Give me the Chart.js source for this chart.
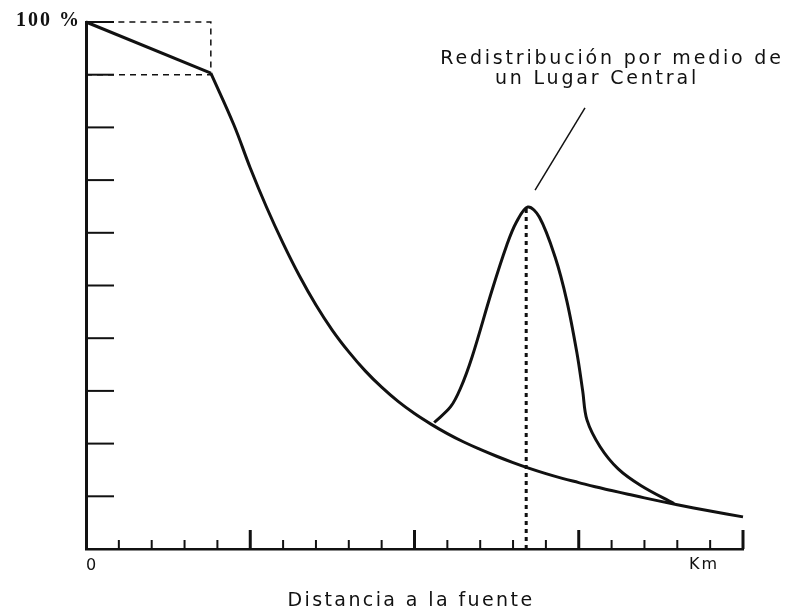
<!DOCTYPE html>
<html>
<head>
<meta charset="utf-8">
<script src="https://cdn.jsdelivr.net/npm/chart.js@4"></script>
<style>
  body { margin: 0; background: #fff; }
  #wrap { width: 794px; height: 611px; }
</style>
</head>
<body>
<div id="wrap"><canvas id="chart"></canvas></div>
<script>
// straight first stretch, then the distance-decay curve
const slopeX = [0, 3.8];
const slopeY = [100, 90.3];
const decayX = [3.8, 4.5, 5, 5.5, 6, 6.5, 7, 7.5, 8, 8.5, 9, 9.5, 10, 10.5, 11, 11.5, 12, 12.5, 13, 13.5, 14, 14.5, 15, 15.5, 16, 16.5, 17, 18, 19, 20];
const decayY = [90.3, 80.5, 72.3, 64.8, 58.0, 51.8, 46.3, 41.5, 37.4, 33.8, 30.7, 28.0, 25.7, 23.7, 21.9, 20.3, 18.9, 17.6, 16.4, 15.3, 14.3, 13.4, 12.6, 11.8, 11.1, 10.4, 9.7, 8.4, 7.2, 6.1];

// bump from the central place
const peakX = [10.6, 11.1, 11.4, 11.75, 12.36, 12.8, 13.1, 13.45, 13.8, 14.28, 14.64, 14.95, 15.12, 15.25, 15.65, 16.2, 16.9, 17.9];
const peakY = [24, 27, 30.5, 36.4, 49.1, 57.5, 62, 64.9, 63, 55.4, 47, 37, 30, 24.5, 19.4, 15.2, 12, 8.6];

const centerX = [13.4, 13.4];
const centerY = [0, 65];
const boxX = [0, 3.8, 3.8, 0];
const boxY = [90, 90, 100, 100];
const leaderX = [13.67, 15.19];
const leaderY = [68.1, 83.7];

const yTicks = [10, 20, 30, 40, 50, 60, 70, 80, 90, 100];
const xTicks = [1, 2, 3, 4, 5, 6, 7, 8, 9, 10, 11, 12, 13, 14, 15, 16, 17, 18, 19, 20];
const xMajor = [5, 10, 15, 20];

const ink = "#111";
const pts = (xs, ys) => xs.map((x, i) => ({ x: x, y: ys[i] }));

function lineSet(xs, ys, opts) {
  return Object.assign({
    data: pts(xs, ys),
    showLine: true,
    borderColor: ink,
    borderWidth: 3,
    pointRadius: 0,
    tension: 0,
    clip: false,
  }, opts);
}

const decorations = {
  id: "decorations",
  afterDatasetsDraw(chart) {
    const ctx = chart.ctx;
    const xs = chart.scales.x;
    const ys = chart.scales.y;
    const a = chart.chartArea;
    ctx.save();
    ctx.strokeStyle = ink;
    ctx.fillStyle = ink;

    // inward ticks on the y axis
    ctx.lineWidth = 2;
    yTicks.forEach((v) => {
      const y = ys.getPixelForValue(v);
      ctx.beginPath();
      ctx.moveTo(a.left, y);
      ctx.lineTo(a.left + 28, y);
      ctx.stroke();
    });

    // upward ticks on the x axis
    xTicks.forEach((v) => {
      const x = xs.getPixelForValue(v);
      const major = xMajor.includes(v);
      ctx.lineWidth = major ? 3 : 2;
      ctx.beginPath();
      ctx.moveTo(x, a.bottom);
      ctx.lineTo(x, a.bottom - (major ? 19 : 9));
      ctx.stroke();
    });

    ctx.textBaseline = "middle";
    ctx.font = "bold 20px 'Liberation Serif'";
    ctx.letterSpacing = "2px";
    ctx.textAlign = "right";
    ctx.fillText("100 %", a.left - 5, a.top - 1);

    ctx.font = "16px 'DejaVu Sans'";
    ctx.letterSpacing = "0px";
    ctx.textAlign = "center";
    ctx.fillText("0", a.left + 5, a.bottom + 17);
    ctx.letterSpacing = "2px";
    ctx.fillText("Km", xs.getPixelForValue(18.75) + 2, a.bottom + 16);

    ctx.font = "19px 'DejaVu Sans'";
    ctx.letterSpacing = "2.4px";
    ctx.fillText("Distancia a la fuente", 411, a.bottom + 52);

    ctx.letterSpacing = "2.8px";
    ctx.fillText("Redistribución por medio de", 612, 59);
    ctx.fillText("un Lugar Central", 597, 79);
    ctx.restore();
  },
};

new Chart(document.getElementById("chart"), {
  type: "scatter",
  data: {
    datasets: [
      lineSet(slopeX, slopeY, {}),
      lineSet(decayX, decayY, { tension: 0.4 }),
      lineSet(peakX, peakY, { tension: 0.35 }),
      lineSet(centerX, centerY, { borderDash: [4, 4] }),
      lineSet(boxX, boxY, { borderWidth: 1.5, borderDash: [6, 5] }),
      lineSet(leaderX, leaderY, { borderWidth: 1.5 }),
    ],
  },
  plugins: [decorations],
  options: {
    responsive: true,
    maintainAspectRatio: false,
    animation: false,
    layout: {
      padding: { left: 86, top: 22, right: 51, bottom: 62 },
    },
    scales: {
      x: {
        type: "linear",
        min: 0,
        max: 20,
        grid: { display: false, drawTicks: false },
        ticks: { display: false },
        border: { display: true, color: ink, width: 2.5 },
        afterFit: (s) => { s.height = 0; },
      },
      y: {
        min: 0,
        max: 100,
        grid: { display: false, drawTicks: false },
        ticks: { display: false },
        border: { display: true, color: ink, width: 3 },
        afterFit: (s) => { s.width = 0; },
      },
    },
    plugins: {
      legend: { display: false },
      tooltip: { enabled: false },
    },
  },
});
</script>
</body>
</html>
